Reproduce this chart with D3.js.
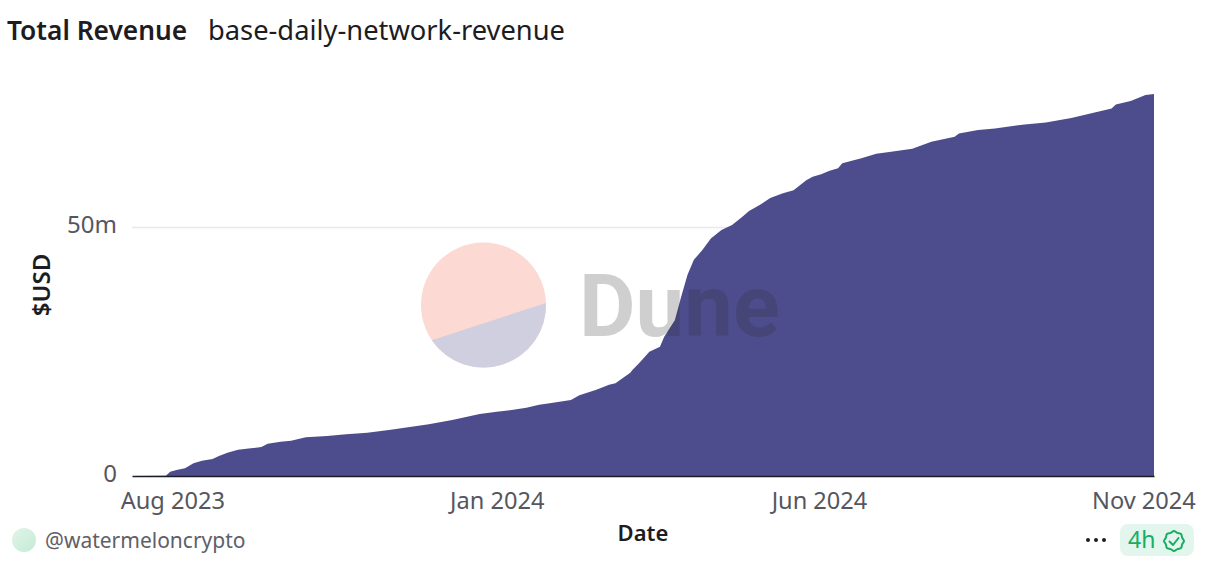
<!DOCTYPE html>
<html>
<head>
<meta charset="utf-8">
<script src="https://cdnjs.cloudflare.com/ajax/libs/d3/7.8.5/d3.min.js"></script>
<style>
  html, body { margin: 0; padding: 0; background: #fff; overflow: hidden; }
  svg { display: block; }
  text { font-family: "Noto Sans", sans-serif; }
</style>
</head>
<body>
<div id="chart"></div>
<script>
const dates = ['2023-07-13','2023-07-29','2023-07-31','2023-08-03','2023-08-07','2023-08-11','2023-08-15','2023-08-20','2023-08-23','2023-08-27','2023-09-01','2023-09-07','2023-09-12','2023-09-15','2023-09-21','2023-09-26','2023-10-03','2023-10-13','2023-10-22','2023-11-01','2023-11-12','2023-11-30','2023-12-11','2023-12-24','2024-01-01','2024-01-08','2024-01-15','2024-01-21','2024-01-26','2024-02-05','2024-02-09','2024-02-17','2024-02-23','2024-02-26','2024-03-04','2024-03-05','2024-03-08','2024-03-11','2024-03-13','2024-03-18','2024-03-20','2024-03-25','2024-03-28','2024-03-31','2024-04-03','2024-04-07','2024-04-11','2024-04-16','2024-04-21','2024-04-26','2024-04-29','2024-05-04','2024-05-09','2024-05-15','2024-05-20','2024-05-23','2024-05-26','2024-05-29','2024-06-02','2024-06-06','2024-06-10','2024-06-12','2024-06-21','2024-06-28','2024-07-05','2024-07-15','2024-07-24','2024-08-04','2024-08-06','2024-08-15','2024-08-23','2024-08-28','2024-09-06','2024-09-16','2024-09-20','2024-09-28','2024-10-04','2024-10-09','2024-10-12','2024-10-17','2024-10-19','2024-10-23','2024-10-26','2024-11-02','2024-11-06'];
// cumulative revenue in millions of USD
const revenue = [0,0.06,0.86,1.2,1.55,2.55,3.07,3.41,4.0,4.68,5.28,5.56,5.82,6.49,6.89,7.09,7.77,8.03,8.37,8.7,9.3,10.38,11.24,12.45,12.9,13.25,13.7,14.32,14.6,15.26,16.2,17.3,18.3,18.6,20.74,21.3,22.6,24.0,24.96,25.96,27.97,31.3,36.0,40.4,43.4,45.4,47.7,49.4,50.4,52.1,53.2,54.4,55.8,56.8,57.4,58.4,59.4,60.1,60.6,61.3,61.8,62.8,63.8,64.7,65.1,65.7,67.1,68.1,68.8,69.5,69.8,70.1,70.6,71.0,71.3,71.9,72.5,73.0,73.3,73.8,74.6,75.0,75.3,76.5,76.7];
const x_ticks = ['2023-08-01','2024-01-01','2024-06-01','2024-11-01'];
const y_ticks = [0, 50];

const width = 1196, height = 576;
const margin = { left: 132, right: 42, top: 60, bottom: 100 };
const parse = d3.utcParse('%Y-%m-%d');
const rows = dates.map((d, i) => ({ date: parse(d), value: revenue[i] }));

const svg = d3.select('#chart').append('svg')
  .attr('width', width)
  .attr('height', height);

const x = d3.scaleUtc()
  .domain(d3.extent(rows, d => d.date))
  .range([margin.left, width - margin.right]);
const y = d3.scaleLinear()
  .domain([0, 50])
  .range([height - margin.bottom, 227]);

// y axis + gridline
const y_axis = svg.append('g')
  .attr('transform', `translate(${margin.left},0)`)
  .call(d3.axisLeft(y).tickValues(y_ticks).tickSize(-(width - margin.left - margin.right)).tickPadding(15)
    .tickFormat(d => d === 0 ? '0' : d + 'm'));
y_axis.select('.domain').remove();
y_axis.selectAll('line').attr('stroke', d => d === 0 ? 'none' : '#e8e8ef').attr('stroke-width', 1.5);
y_axis.selectAll('text')
  .attr('dy', '0.22em')
  .style('font-size', '24px').attr('fill', '#55565e');

const area = d3.area()
  .x(d => x(d.date))
  .y0(y(0))
  .y1(d => y(d.value));

svg.append('path')
  .datum(rows)
  .attr('fill', '#4d4d8e')
  .attr('d', area);

// x axis
const x_axis = svg.append('g')
  .attr('transform', `translate(0,${y(0)})`)
  .call(d3.axisBottom(x).tickValues(x_ticks.map(parse)).tickSize(0).tickPadding(16)
    .tickFormat(d3.utcFormat('%b %Y')));
x_axis.select('.domain').attr('stroke', '#1c1c26').attr('stroke-width', 1.5);
x_axis.selectAll('text')
  .style('font-size', '23.6px').attr('fill', '#55565e');

// watermark
const wm = svg.append('g');
const logo_r = 62.5, logo_x = 483.5, logo_y = 305;
const a0 = Math.atan2(-2, 62.5), a1 = Math.atan2(35, -51.5);
const chord = d3.path();
chord.arc(0, 0, logo_r, a0, a1, false);
chord.closePath();
wm.append('circle').attr('cx', logo_x).attr('cy', logo_y).attr('r', logo_r).attr('fill', '#fcd9d2');
wm.append('path')
  .attr('transform', `translate(${logo_x},${logo_y})`)
  .attr('fill', '#d0cfe0')
  .attr('d', chord.toString());
wm.append('text')
  .attr('x', 579).attr('y', 336)
  .style('font-family', 'Roboto').style('font-size', '87px').style('font-weight', 700)
  .attr('fill', '#2e2e2e').attr('opacity', 0.225)
  .text('Dune');

// titles
svg.append('text').attr('x', 7).attr('y', 40)
  .style('font-size', '26.3px').style('font-weight', 600).attr('fill', '#1c1c22')
  .text('Total Revenue');
svg.append('text').attr('x', 208).attr('y', 40)
  .style('font-size', '27.3px').attr('fill', '#1c1c22')
  .text('base-daily-network-revenue');

// axis titles
svg.append('text').attr('x', 643).attr('y', 541).attr('text-anchor', 'middle')
  .style('font-size', '22px').style('font-weight', 600).attr('fill', '#1c1c22')
  .text('Date');
svg.append('text')
  .attr('transform', 'translate(50,285) rotate(-90)')
  .attr('text-anchor', 'middle')
  .style('font-size', '24px').style('font-weight', 600).attr('fill', '#1c1c22')
  .text('$USD');

// footer left
const grad = svg.append('defs').append('linearGradient').attr('id', 'avatar')
  .attr('x1', 0).attr('y1', 0).attr('x2', 1).attr('y2', 1);
grad.append('stop').attr('offset', 0).attr('stop-color', '#e2f4e6');
grad.append('stop').attr('offset', 1).attr('stop-color', '#c4ebd8');
svg.append('circle').attr('cx', 24).attr('cy', 540).attr('r', 12).attr('fill', 'url(#avatar)');
svg.append('text').attr('x', 45).attr('y', 548)
  .style('font-size', '21px').attr('fill', '#5f6068')
  .text('@watermeloncrypto');

// footer right
svg.selectAll('.dot').data([1088, 1096, 1104]).join('circle')
  .attr('cx', d => d).attr('cy', 540).attr('r', 2).attr('fill', '#1c1c22');
svg.append('rect').attr('x', 1120).attr('y', 524).attr('width', 74).attr('height', 32).attr('rx', 8)
  .attr('fill', '#e3f6ed');
svg.append('text').attr('x', 1128).attr('y', 548)
  .style('font-size', '23px').attr('fill', '#17ad63')
  .text('4h');
const badge = d3.lineRadial().curve(d3.curveCardinalClosed)
  .angle(d => d[0]).radius(d => d[1]);
const badge_pts = d3.range(16).map(i => [i * Math.PI / 8, i % 2 ? 8.8 : 10]);
const icon = svg.append('g').attr('transform', 'translate(1174,541)')
  .attr('fill', 'none').attr('stroke', '#17ad63').attr('stroke-width', 2)
  .attr('stroke-linecap', 'round').attr('stroke-linejoin', 'round');
icon.append('path').attr('d', badge(badge_pts));
icon.append('path').attr('d', 'M-4.5,0.5 L-1,4 L4.5,-3');
</script>
</body>
</html>
